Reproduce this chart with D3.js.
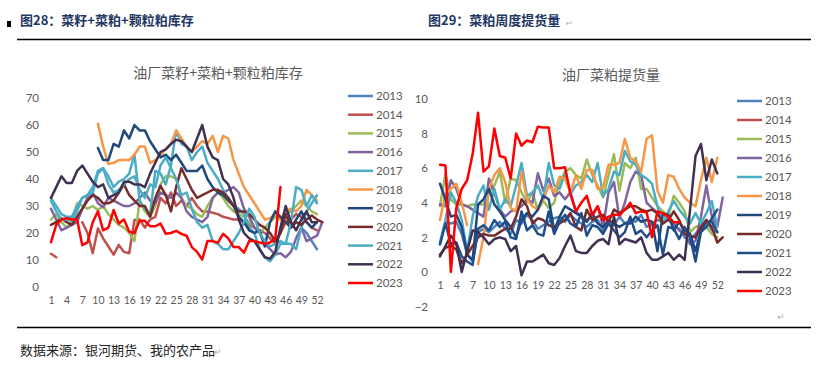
<!DOCTYPE html>
<html><head><meta charset="utf-8">
<script src="https://cdn.jsdelivr.net/npm/d3@7"></script>
<style>body{margin:0;background:#fff}svg{display:block}</style>
</head><body>
<svg id="c" width="827" height="366"></svg>
<script>
const years = ["2013","2014","2015","2016","2017","2018","2019","2020","2021","2022","2023"];
const weekTicks = [1,4,7,10,13,16,19,22,25,28,31,34,37,40,43,46,49,52];
const leftYTicks = [0,10,20,30,40,50,60,70];
const rightYTicks = [-2,0,2,4,6,8,10];
const _ = null;

// Left chart: 油厂菜籽+菜粕+颗粒粕库存 (weeks 1..53)
const L2013 = [_,_,_,_,_,_,_,_,_,_, _,_,_,_,_,_,_,_,_,_, _,_,_,_,_,_,_,_,_,_, _,_,_,_,_,_,_,_,_,_, _,_,_,_,_,_,_,_,22,20, 17,14,_];
const L2014 = [12.3,11,_,_,_,_,24,20,12.5,21.7, 18,15,12,15.6,13,12.5,24.8,25,22,25, 26,33,31,35,30,32,30,33,30,28, 28,27.5,27,26,25.5,25,25,24,23,22, 21,20,18,16,20,24,25,27,26,24, 22,21,_];
const L2015 = [25,27,24,22,24,31,30,29,30,28.5, 30,27,25,23,22,20,17,32,28,26, 30,38,41,41,40,33,30,29,27,26, 30,33,35,33,30,28,27,26,24,22, 20,22,24,26,25,27,28,30,32,30, 28,27,_];
const L2016 = [29,25,21,22,23,24,29,33,35,31, 29.5,33,32,31,30,30,31,33,35,32, 31,35,34,33,35,33,28,26,25,24, 26,33,35,35,36,37,35,29,26,22, 20,16,14,12,12.5,11,13,18,22,17, 18,19,24];
const L2017 = [33,30,27,26,26,30,33,34,37,43, 44,41,37,39,40,42,49,32,29,27, 43,42,38,45,58,53,52,47,50,52, 46,43,40,36,33,30,29,27,22,20, 14,11,9.5,12,16,16,16,14,22,28, 31,34,_];
const L2018 = [_,_,_,_,_,_,_,_,_,60.5, 52,45.5,46,47,47,47,49,52,52,46, 47,49,51,53,58,55,52,50,52,54, 53,56,50,56,55,47,42,37,34,31, 28,25,25.5,27,25,28,29,28,30,36, 34,32,_];
const L2019 = [_,_,_,_,_,_,_,_,_,51.5, 47,47,53,52,58,55,60,58,58,54, 51,48,49,47,49,46,43,43,43,45, 40,37,35,34,32,30,26,24,21,20, 21,15,24,28,26,24,22,25,28,24, 22,24,_];
const L2020 = [23,24,25.5,24,23,26,29,32,34,33, 31,31,32,35,38,34,32,30,30,26, 33,37.5,34,28,37,44,40,36,33,34, 35,36,36,35,33,30,28,28,27,25, 23,22,20,17,20,27,22,24,23,25, 26.5,25,24];
const L2021 = [32,28,25,25,24.5,28,33,34,35,42, 44,38,35,36,38,40,41,36,33,38, 37,45,48,44,40,34,35,29,24,22, 23,17,16,14,14,17,20,24,29,26, 20,17,15,16,17,16,24,37,36,30, 34,31,_];
const L2022 = [33,37,41,38.5,38.5,43,45,42,39,37, 38,33,34,35,39,39,38,38,37,42, 46,50,51,53,54.5,54,52,50,55,60, 52,48,47,40,38,33,25,20,18,17, 14,11,10.5,13,22,30,24,21,25,28, 24,24,_];
const L2023 = [16.6,23,25,25.5,25,25,15.5,16.5,24,28, 21,22,28.5,23.5,25,20.5,20,24.5,24.5,22.5, 22.5,23.5,19.7,20,20.8,19.7,19,14.8,13,10.2, 17,17,16.4,19.7,18,14.8,14.8,12.7,17,17, 16.5,16,16.5,18,37];

// Right chart: 油厂菜粕提货量 (weeks 1..53)
const R2013 = [1.6,2.9,2.8,2.9,2.2,1.0,0.6,2.3,2.5,2.3, 2.6,2.9,2.5,2.2,3.0,2.8,3.3,3.0,2.5,2.7, 2.9,3.1,3.2,2.9,3.3,3.0,2.8,2.6,2.9,3.0, 2.4,2.9,2.7,3.2,2.8,3.0,2.9,3.3,2.6,2.8, 3.0,2.9,3.1,2.6,2.5,2.0,1.8,2.2,2.6,3.0, 2.4,2.3,_];
const R2014 = [];
const R2015 = [3.8,5.7,4.2,3.9,3.9,3.8,3.9,3.9,3.9,4.6, 5.0,5.8,4.0,5.4,5.3,4.6,4.0,4.6,3.6,4.1, 3.7,4.0,5.2,5.8,6.0,5.6,5.4,6.5,5.6,5.0, 4.3,5.6,6.8,4.7,6.3,6.0,6.6,4.8,4.8,4.3, 3.8,3.5,3.2,4.4,4.0,3.5,2.3,2.6,2.7,2.6, 2.2,2.0,_];
const R2016 = [3.9,3.8,5.3,4.8,3.9,3.8,3.6,3.4,3.2,5.4, 4.6,3.6,3.2,3.5,3.6,3.8,4.2,4.0,5.7,4.7, 5.4,4.4,4.6,4.2,4.6,3.5,3.2,3.0,3.2,3.8, 2.6,4.6,5.2,3.1,4.0,5.2,5.8,5.6,4.0,3.7, 3.4,3.4,3.0,2.8,2.4,2.2,1.6,1.8,3.2,5.0, 3.2,2.6,4.3];
const R2017 = [1.7,3.0,4.6,4.0,3.0,1.2,3.2,4.4,5.0,3.6, 4.8,3.6,4.2,3.8,5.0,6.3,4.4,4.6,5.0,4.2, 6.3,5.0,4.8,5.7,4.5,5.0,5.2,5.6,5.2,6.3, 4.4,4.8,5.8,5.6,7.0,6.4,6.2,5.6,5.4,5.1, 3.8,2.8,3.5,4.1,3.6,3.2,2.8,3.4,2.8,3.4, 4.1,2.6,_];
const R2018 = [3.0,4.5,4.8,5.1,4.0,2.7,_,0.45,2.0,4.8, 5.6,6.0,5.2,3.7,3.5,5.8,4.2,3.8,3.6,4.2, 5.0,4.6,5.5,5.4,4.6,5.6,4.8,5.9,5.9,4.8, 4.9,6.2,6.2,6.3,7.7,6.6,6.4,5.8,7.7,7.9, 4.7,4.0,5.6,5.5,4.8,4.3,4.0,3.8,5.3,6.6, 5.2,6.6,_];
const R2019 = [5.1,4.2,3.2,3.3,2.6,1.0,0.7,3.9,4.2,4.8, 3.9,3.5,3.0,2.6,2.0,3.0,3.4,3.2,3.6,4.4, 4.2,2.4,3.2,3.8,3.6,3.4,3.2,2.9,3.4,2.8, 2.6,3.0,2.8,2.6,2.8,2.8,3.2,2.9,3.0,2.9, 1.2,3.4,3.3,2.4,2.9,2.4,2.2,1.2,2.4,2.9, 2.9,2.3,_];
const R2020 = [1.0,1.4,1.5,1.3,0.5,1.0,1.5,2.0,2.2,2.1, 2.1,2.3,2.5,2.5,3.2,4.2,3.8,2.8,3.1,3.0, 2.7,2.6,2.8,3.0,3.4,2.6,2.4,3.6,3.0,3.2, 3.3,2.9,3.6,3.4,3.6,3.8,3.8,3.6,3.5,3.6, 3.4,2.8,3.0,3.5,3.0,2.2,2.1,2.0,2.6,3.0, 2.6,1.7,2.0];
const R2021 = [1.6,2.8,1.6,1.7,0.9,0.6,0.4,2.5,2.7,2.4, 3.0,2.6,2.9,2.0,1.9,3.5,2.4,2.7,2.2,2.1, 3.5,2.2,2.9,3.3,2.8,2.6,3.4,2.1,2.7,2.6, 2.2,2.8,2.4,2.0,2.3,3.2,2.2,2.4,2.0,2.4, 2.7,1.0,2.6,2.5,1.9,2.6,2.0,0.6,2.3,2.6, 3.1,3.6,_];
const R2022 = [0.9,1.5,2.1,1.6,0.0,1.2,2.4,2.3,2.0,1.6, 1.9,2.0,1.9,1.2,1.5,-0.2,0.6,0.6,0.8,1.0, 0.5,0.4,0.8,1.5,2.1,1.2,1.1,1.1,1.5,1.8, 1.9,1.6,3.2,1.6,1.9,1.8,1.7,2.0,1.1,0.7, 0.7,0.9,1.1,0.7,1.0,0.7,3.6,6.7,7.4,5.3, 6.5,5.7,_];
const R2023 = [6.2,6.15,0,3.7,4.8,5.3,6.8,9.2,5.8,6.1, 8.3,6.7,6.6,5.4,8.0,7.3,7.6,7.5,8.4,8.35, 8.35,6.0,6.0,6.05,4.5,3.5,4.0,4.4,3.3,3.8, 2.97,3.2,3.3,3.3,3.6,4.0,3.4,3.5,3.45,2.0, 3.5,3.4,3.2,2.87,2.87];

const leftColors  = ["#4F81BD","#C0504D","#9BBB59","#8064A2","#4BACC6","#F79646","#1F497D","#772C2A","#4BACC6","#403152","#FF0000"];
const rightColors = ["#4F81BD","#C0504D","#9BBB59","#8064A2","#4BACC6","#F79646","#1F497D","#772C2A","#1F4E8C","#403152","#FF0000"];

const leftSeries  = [L2013,L2014,L2015,L2016,L2017,L2018,L2019,L2020,L2021,L2022,L2023];
const rightSeries = [R2013,R2014,R2015,R2016,R2017,R2018,R2019,R2020,R2021,R2022,R2023];

const svg = d3.select("#c");
const numFont = "Lato, 'Liberation Sans', sans-serif";
const cjk = "'Noto Sans CJK SC', sans-serif";

// header
svg.append("rect").attr("x",7).attr("y",21).attr("width",4).attr("height",6).attr("fill","#000");
svg.append("text").attr("x",20).attr("y",25).attr("font-family",cjk).attr("font-weight","bold")
  .attr("font-size",13).attr("fill","#1F3864")
  .text("图28：菜籽+菜粕+颗粒粕库存");
svg.append("text").attr("x",428).attr("y",25).attr("font-family",cjk).attr("font-weight","bold")
  .attr("font-size",13).attr("fill","#1F3864")
  .text("图29：菜粕周度提货量");
svg.append("text").attr("x",566).attr("y",26).attr("font-family",numFont).attr("font-size",8).attr("fill","#aaa").text("↵");
svg.append("line").attr("x1",17).attr("x2",811).attr("y1",39.5).attr("y2",39.5).attr("stroke","#000").attr("stroke-width",1.5);
svg.append("line").attr("x1",17).attr("x2",811).attr("y1",327.5).attr("y2",327.5).attr("stroke","#000").attr("stroke-width",1.5);
svg.append("text").attr("x",20).attr("y",355).attr("font-family",cjk).attr("font-size",13).attr("fill","#222")
  .text("数据来源：银河期货、我的农产品");
svg.append("text").attr("x",214).attr("y",355).attr("font-family",numFont).attr("font-size",9).attr("fill","#aaa").text("↵");
svg.append("text").attr("x",777).attr("y",320).attr("font-family",numFont).attr("font-size",9).attr("fill","#aaa").text("↵");

function drawChart(opt){
  const g = svg.append("g");
  const x = d3.scaleLinear().domain([1,53]).range(opt.xr);
  const y = d3.scaleLinear().domain(opt.yd).range(opt.yr);
  g.append("text").attr("x",opt.tx).attr("y",opt.ty).attr("text-anchor","middle")
    .attr("font-family",cjk).attr("font-size",14).attr("fill","#595959").text(opt.title);
  const ya = g.append("g").attr("transform",`translate(${opt.xr[0]-8},0)`)
    .call(d3.axisLeft(y).tickValues(opt.yTicks).tickSize(0).tickPadding(4));
  ya.select(".domain").remove();
  ya.selectAll("text").attr("font-family",numFont).attr("font-size",11.5).attr("fill","#595959");
  const xa = g.append("g").attr("transform",`translate(0,${opt.xAxisY})`)
    .call(d3.axisBottom(x).tickValues(weekTicks).tickSize(0).tickPadding(opt.xPad));
  xa.select(".domain").remove();
  xa.selectAll("text").attr("font-family",numFont).attr("font-size",10.5).attr("fill","#595959");
  const line = d3.line().defined(d => d != null).x((d,i) => x(i+1)).y(d => y(d));
  opt.series.forEach((s,i) => {
    g.append("path").datum(s).attr("d",line).attr("fill","none")
      .attr("stroke",opt.colors[i]).attr("stroke-width",2.5)
      .attr("stroke-linejoin","round").attr("stroke-linecap","round");
  });
  years.forEach((yr,i) => {
    const ly = opt.ly0 + i*opt.lstep;
    g.append("line").attr("x1",opt.lx).attr("x2",opt.lx+25).attr("y1",ly).attr("y2",ly)
      .attr("stroke",opt.colors[i]).attr("stroke-width",2.5);
    g.append("text").attr("x",opt.lx+28).attr("y",ly+4).attr("font-family",numFont)
      .attr("font-size",11.5).attr("fill","#595959").text(yr);
  });
}

drawChart({xr:[51,322.2], yd:[0,70], yr:[287,98], yTicks:leftYTicks, xAxisY:287, xPad:10,
  series:leftSeries, colors:leftColors, title:"油厂菜籽+菜粕+颗粒粕库存", tx:218, ty:78,
  lx:348, ly0:96, lstep:18.7});
drawChart({xr:[440,722.7], yd:[-2,10], yr:[306.5,99], yTicks:rightYTicks, xAxisY:271.3, xPad:10,
  series:rightSeries, colors:rightColors, title:"油厂菜粕提货量", tx:611, ty:80,
  lx:737, ly0:101, lstep:19});
</script>
</body></html>
